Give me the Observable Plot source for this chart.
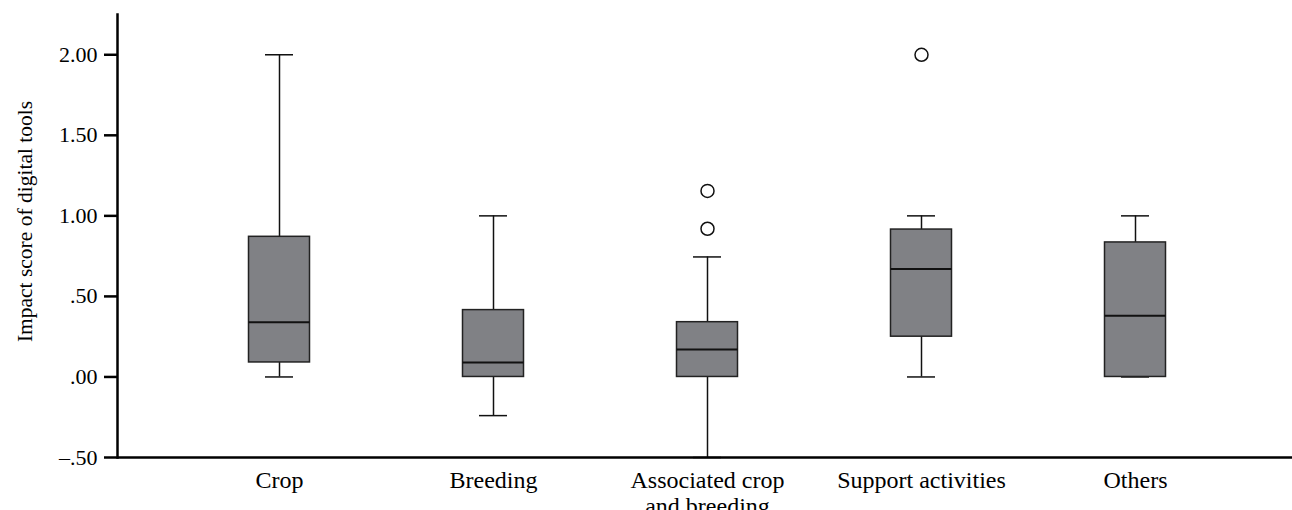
<!DOCTYPE html>
<html>
<head>
<meta charset="utf-8">
<script src="https://cdn.jsdelivr.net/npm/d3@7"></script>
<script src="https://cdn.jsdelivr.net/npm/@observablehq/plot@0.6"></script>
<style>
  html, body { margin: 0; padding: 0; background: #fff; }
  #chart svg { display: block; }
</style>
</head>
<body>
<div id="chart"></div>
<script>
// Categories and tick labels
const categories = ["Crop", "Breeding", "Associated crop and breeding", "Support activities", "Others"];
const categoryLabels = ["Crop", "Breeding", "Associated crop\nand breeding", "Support activities", "Others"];
const yTicks = [-0.5, 0, 0.5, 1, 1.5, 2];
const yTitle = "Impact score of digital tools";

// Box-plot statistics
const whiskerLow  = [0.00, -0.24, -0.50, 0.00, 0.00];
const q1          = [0.09,  0.00,  0.00, 0.25, 0.00];
const median      = [0.34,  0.09,  0.17, 0.67, 0.38];
const q3          = [0.87,  0.415, 0.34, 0.915, 0.835];
const whiskerHigh = [2.00,  1.00,  0.745, 1.00, 1.00];

// Outliers
const outlierCategory = ["Associated crop and breeding", "Associated crop and breeding", "Support activities"];
const outlierValue = [1.155, 0.92, 2.00];

const boxes = categories.map((c, i) => ({
  category: c, lo: whiskerLow[i], q1: q1[i], median: median[i], q3: q3[i], hi: whiskerHigh[i]
}));
const outliers = outlierCategory.map((c, i) => ({category: c, value: outlierValue[i]}));
const labelOf = new Map(categories.map((c, i) => [c, categoryLabels[i]]));

const font = "'Liberation Serif', 'Times New Roman', serif";
const fmt = d => (d < 0 ? "\u2013" : "") + Math.abs(d).toFixed(2).replace(/^0/, "");

const boxInset = 76.5;
const capInset = 93;

const chart = Plot.plot({
  width: 1292,
  height: 510,
  marginLeft: 117,
  marginRight: 0,
  marginTop: 14,
  marginBottom: 53,
  style: {fontFamily: font, fontSize: "23px", color: "#000", background: "#fff"},
  x: {type: "band", domain: categories, range: [172.3, 1242.3], padding: 0},
  y: {domain: [-0.5, 2.25]},
  marks: [
    // whiskers
    Plot.ruleX(boxes, {x: "category", y1: "lo", y2: "q1", stroke: "#111", strokeWidth: 1.5}),
    Plot.ruleX(boxes, {x: "category", y1: "q3", y2: "hi", stroke: "#111", strokeWidth: 1.5}),
    // caps
    Plot.tickY(boxes, {x: "category", y: "lo", insetLeft: capInset, insetRight: capInset, stroke: "#111", strokeWidth: 1.5}),
    Plot.tickY(boxes, {x: "category", y: "hi", insetLeft: capInset, insetRight: capInset, stroke: "#111", strokeWidth: 1.5}),
    // boxes
    Plot.barY(boxes, {x: "category", y1: "q1", y2: "q3", insetLeft: boxInset, insetRight: boxInset,
      fill: "#808185", stroke: "#222", strokeWidth: 1.5}),
    // medians
    Plot.tickY(boxes, {x: "category", y: "median", insetLeft: boxInset, insetRight: boxInset, stroke: "#111", strokeWidth: 2}),
    // outliers
    Plot.dot(outliers, {x: "category", y: "value", r: 6.5, fill: "#fff", stroke: "#111", strokeWidth: 1.5}),
    // axes
    Plot.axisY({ticks: yTicks, tickFormat: fmt, tickSize: 13, tickPadding: 7, strokeWidth: 2.5,
      label: null, fontSize: 22, fill: "#000", stroke: "#000"}),
    Plot.axisX({tickSize: 0, tickPadding: 13, tickFormat: d => labelOf.get(d), label: null,
      fontSize: 24, lineHeight: 1.05, fill: "#000"}),
    Plot.frame({anchor: "left", stroke: "#000", strokeWidth: 2.5}),
    Plot.ruleY([-0.5], {stroke: "#000", strokeWidth: 2.5}),
    // y title
    Plot.text([yTitle], {frameAnchor: "left", dx: -92, dy: -14.5, rotate: -90, textAnchor: "middle",
      fontSize: 21.5, fill: "#000"})
  ]
});
document.getElementById("chart").appendChild(chart);
</script>
</body>
</html>
